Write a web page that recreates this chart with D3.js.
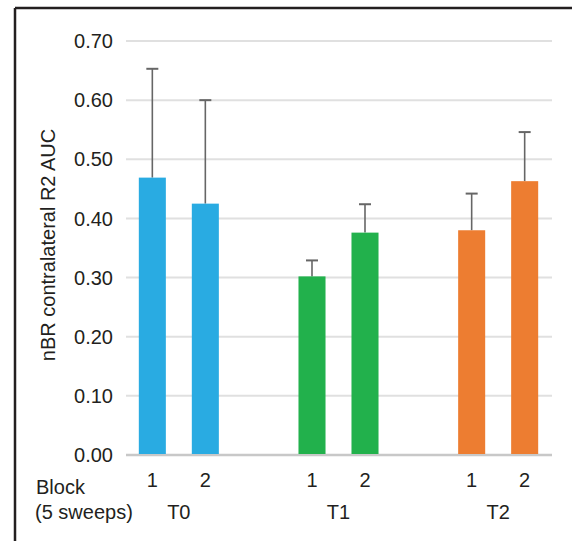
<!DOCTYPE html>
<html lang="en">
<head>
<meta charset="UTF-8" />
<title>nBR contralateral R2 AUC</title>
<script src="https://d3js.org/d3.v7.min.js"></script>
<style>
  body { margin: 0; background: #fff; }
  svg text { font-family: "Liberation Sans", Arial, sans-serif; fill: #231f20; }
</style>
</head>
<body>
<script>
// data
const groups = ["T0", "T1", "T2"];
const blocks = ["1", "2"];
const means = [[0.469, 0.425], [0.302, 0.376], [0.380, 0.463]];
const errs = [[0.184, 0.175], [0.027, 0.048], [0.062, 0.083]];
const colors = ["#29abe2", "#22b14c", "#ed7d31"];
const yTicks = [0, 0.1, 0.2, 0.3, 0.4, 0.5, 0.6, 0.7];

const W = 572, H = 541;
const fs = "20px";
const svg = d3.select("body").append("svg").attr("width", W).attr("height", H);

// frame (top + left only visible)
svg.append("line").attr("x1", 15).attr("x2", W).attr("y1", 8).attr("y2", 8)
  .attr("stroke", "#231f20").attr("stroke-width", 2.5);
svg.append("line").attr("x1", 15).attr("x2", 15).attr("y1", 8).attr("y2", H)
  .attr("stroke", "#231f20").attr("stroke-width", 2.5);

const y = d3.scaleLinear().domain([0, 0.7]).range([455, 41]);
const x0 = d3.scaleBand().domain(groups).range([99, 578]);
const x1 = d3.scaleBand().domain(blocks).range([-53, 53]).paddingInner(0.49).paddingOuter(0.245);
const gx = g => x0(g) + x0.bandwidth() / 2;

// gridlines
svg.append("g").selectAll("line").data(yTicks).join("line")
  .attr("x1", 126).attr("x2", 552)
  .attr("y1", d => y(d)).attr("y2", d => y(d))
  .attr("stroke", d => d === 0 ? "#c8c8c8" : "#e0e0e0")
  .attr("stroke-width", d => d === 0 ? 2.5 : 2);

svg.append("g").selectAll("text").data(yTicks).join("text")
  .attr("x", 113).attr("y", d => y(d)).attr("dy", "0.36em")
  .attr("text-anchor", "end").style("font-size", fs)
  .text(d => d3.format(".2f")(d));

svg.append("text")
  .attr("transform", "translate(55,245) rotate(-90)")
  .attr("text-anchor", "middle").style("font-size", fs)
  .text("nBR contralateral R2 AUC");

// bars + error bars
const flat = [];
groups.forEach((g, i) => blocks.forEach((b, j) => flat.push({ g, b, v: means[i][j], e: errs[i][j], c: colors[i] })));

svg.append("g").selectAll("line").data(flat).join("line")
  .attr("x1", d => gx(d.g) + x1(d.b) + x1.bandwidth() / 2)
  .attr("x2", d => gx(d.g) + x1(d.b) + x1.bandwidth() / 2)
  .attr("y1", d => y(d.v)).attr("y2", d => y(d.v + d.e))
  .attr("stroke", "#666").attr("stroke-width", 1.6);
svg.append("g").selectAll("line").data(flat).join("line")
  .attr("x1", d => gx(d.g) + x1(d.b) + x1.bandwidth() / 2 - 6)
  .attr("x2", d => gx(d.g) + x1(d.b) + x1.bandwidth() / 2 + 6)
  .attr("y1", d => y(d.v + d.e)).attr("y2", d => y(d.v + d.e))
  .attr("stroke", "#666").attr("stroke-width", 2);

svg.append("g").selectAll("rect").data(flat).join("rect")
  .attr("x", d => gx(d.g) + x1(d.b)).attr("width", x1.bandwidth())
  .attr("y", d => y(d.v)).attr("height", d => y(0) - y(d.v) - 1)
  .attr("fill", d => d.c);

// x labels
svg.append("g").selectAll("text").data(flat).join("text")
  .attr("x", d => gx(d.g) + x1(d.b) + x1.bandwidth() / 2).attr("y", 487)
  .attr("text-anchor", "middle").style("font-size", fs)
  .text(d => d.b);
svg.append("g").selectAll("text").data(groups).join("text")
  .attr("x", d => gx(d)).attr("y", 519)
  .attr("text-anchor", "middle").style("font-size", fs)
  .text(d => d);
svg.append("text").attr("x", 36).attr("y", 494).style("font-size", fs).text("Block");
svg.append("text").attr("x", 35).attr("y", 519).style("font-size", fs).text("(5 sweeps)");
</script>
</body>
</html>
